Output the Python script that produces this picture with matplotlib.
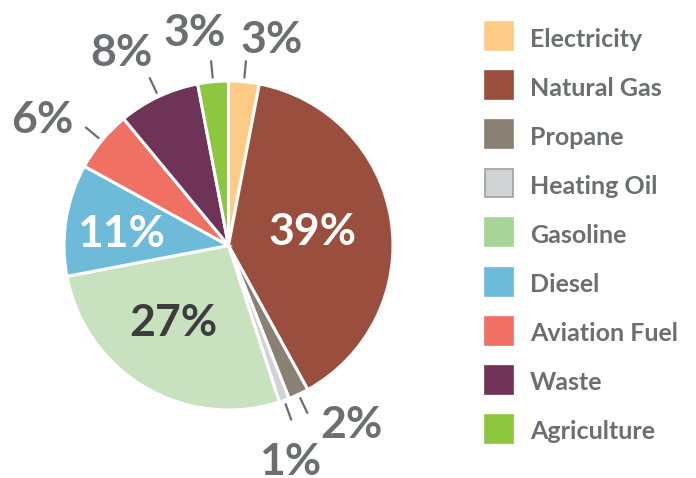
import numpy as np
import matplotlib
matplotlib.use("Agg")
import matplotlib.pyplot as plt
from matplotlib.patches import Rectangle

# ---- data ----
categories = ["Electricity", "Natural Gas", "Propane", "Heating Oil", "Gasoline",
              "Diesel", "Aviation Fuel", "Waste", "Agriculture"]
values = [3, 39, 2, 1, 27, 11, 6, 8, 3]
pct_labels = ["3%", "39%", "2%", "1%", "27%", "11%", "6%", "8%", "3%"]

# ---- style ----
pie_colors = ["#fdcb86", "#9a4f3e", "#8a8073", "#d1d2d4", "#c8e2c0",
              "#6dbad9", "#f07163", "#703358", "#8dc63f"]
legend_colors = ["#fdcb86", "#9a4f3e", "#8a8073", "#d1d2d4", "#a5d398",
                 "#6dbad9", "#f07163", "#703358", "#8dc63f"]
text_grey = "#6d6e71"
FONT = "Lato"

# label placement: (inside?, radius, angle offset deg (clockwise), color)
label_style = {
    "Electricity":   (False, 1.295, 6.3, text_grey),
    "Natural Gas":   (True, 0.52, -2.4, "white"),
    "Propane":       (False, 1.307, -9.8, text_grey),
    "Heating Oil":   (False, 1.35, 3.8, text_grey),
    "Gasoline":      (True, 0.56, 6.4, "#3d3d3d"),
    "Diesel":        (True, 0.66, -0.8, "white"),
    "Aviation Fuel": (False, 1.377, -5.0, text_grey),
    "Waste":         (False, 1.36, -3.5, text_grey),
    "Agriculture":   (False, 1.33, -3.4, text_grey),
}

W, H = 696, 478
fig = plt.figure(figsize=(W / 100, H / 100), dpi=100)

cx, cy, R = 228.5, 245.5, 164.5
ax = fig.add_axes([(cx - R) / W, (H - cy - R) / H, 2 * R / W, 2 * R / H])
wedges, _ = ax.pie(values, colors=pie_colors, startangle=90, counterclock=False,
                   radius=1.0, wedgeprops=dict(edgecolor="white", linewidth=2.2))
ax.set_xlim(-1, 1)
ax.set_ylim(-1, 1)
ax.set_aspect("equal")
ax.axis("off")

total = float(sum(values))
cum = 0.0
for cat, v, lab in zip(categories, values, pct_labels):
    mid = (cum + v / 2) / total * 360.0   # clockwise from top
    cum += v
    inside, r, dang, col = label_style[cat]
    a = np.deg2rad(90 - (mid + dang))
    tx, ty = r * np.cos(a), r * np.sin(a)
    ax.text(tx, ty, lab, ha="center", va="center_baseline", fontsize=32,
            fontweight="bold", color=col, family=FONT, clip_on=False)
    if not inside:
        am = np.deg2rad(90 - mid)
        ax.plot([1.02 * np.cos(am), 1.13 * np.cos(am)],
                [1.02 * np.sin(am), 1.13 * np.sin(am)],
                color=text_grey, lw=1.6, clip_on=False, solid_capstyle="butt")

# ---- legend ----
lax = fig.add_axes([0, 0, 1, 1])
lax.set_xlim(0, W)
lax.set_ylim(H, 0)
lax.axis("off")
y0, dy, sq = 36, 49.1, 28
for i, (cat, col) in enumerate(zip(categories, legend_colors)):
    yc = y0 + i * dy
    ec = "#9d9fa2" if cat == "Heating Oil" else col
    lax.add_patch(Rectangle((485, yc - sq / 2), sq, sq, facecolor=col,
                            edgecolor=ec, lw=1.2))
    lax.text(530, yc + 1, cat, ha="left", va="center_baseline", fontsize=18,
             fontweight="bold", color=text_grey, family=FONT)

fig.savefig("out.png", dpi=100)
